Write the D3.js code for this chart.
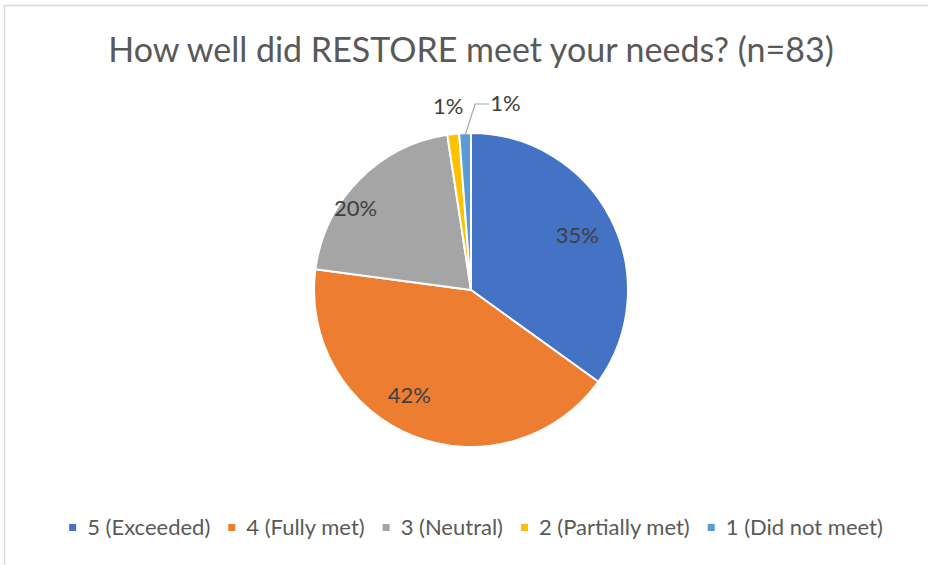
<!DOCTYPE html>
<html>
<head>
<meta charset="utf-8">
<script src="https://cdn.jsdelivr.net/npm/d3@7/dist/d3.min.js"></script>
<style>
  html, body { margin: 0; padding: 0; background: #fff; }
  svg { display: block; font-family: Lato, "Open Sans", sans-serif; }
</style>
</head>
<body>
<svg id="chart" width="928" height="565"></svg>
<script>
// Survey responses (n = 83)
const categories = ["5 (Exceeded)", "4 (Fully met)", "3 (Neutral)", "2 (Partially met)", "1 (Did not meet)"];
const counts = [29, 35, 17, 1, 1];
const percentLabels = ["35%", "42%", "20%", "1%", "1%"];
const colors = ["#4472C4", "#ED7D31", "#A5A5A5", "#FFC000", "#5B9BD5"];
const title = "How well did RESTORE meet your needs? (n=83)";

const W = 928, H = 565;
const cx = 471, cy = 290, R = 157;

const svg = d3.select("#chart");

// Chart frame
svg.append("rect")
  .attr("x", 4.5).attr("y", 5.5)
  .attr("width", W + 10).attr("height", H + 10)
  .attr("fill", "none").attr("stroke", "#d9d9d9").attr("stroke-width", 1.5);

// Title
svg.append("text")
  .attr("x", 471).attr("y", 62)
  .attr("text-anchor", "middle")
  .attr("font-size", 34)
  .attr("fill", "#595959")
  .text(title);

const data = categories.map((c, i) => ({ name: c, value: counts[i], label: percentLabels[i], color: colors[i] }));

const pie = d3.pie().value(d => d.value).sort(null);
const arcs = pie(data);
const arc = d3.arc().innerRadius(0).outerRadius(R);

const g = svg.append("g").attr("transform", `translate(${cx},${cy})`);

g.selectAll("path.slice")
  .data(arcs)
  .join("path")
  .attr("class", "slice")
  .attr("d", arc)
  .attr("fill", d => d.data.color)
  .attr("stroke", "#fff")
  .attr("stroke-width", 2)
  .attr("stroke-linejoin", "round");

// Label placement: radius factor and angular nudge (radians) per slice
const labelPlace = [
  { r: 0.76, da: 0 },
  { r: 0.78, da: 0.15 },
  { r: 0.90, da: -0.16 },
  { r: 1.18, da: -0.01 },
  { r: 1.22, da: 0.1 }
];
const labelSize = 22;

arcs.forEach((a, i) => {
  const mid = (a.startAngle + a.endAngle) / 2 + labelPlace[i].da;
  const rr = R * labelPlace[i].r;
  let x = Math.sin(mid) * rr;
  let y = -Math.cos(mid) * rr;
  if (i === 4) {
    // leader line from the slice edge to the outside label
    const m0 = (a.startAngle + a.endAngle) / 2;
    const ex = Math.sin(m0) * (R - 2), ey = -Math.cos(m0) * (R - 2);
    const kx = ex + 10, ky = -186;
    g.append("polyline")
      .attr("points", `${ex},${ey} ${kx},${ky} ${kx + 14},${ky}`)
      .attr("fill", "none").attr("stroke", "#a6a6a6").attr("stroke-width", 1.2);
    g.append("text")
      .attr("x", kx + 15).attr("y", ky - 1)
      .attr("dy", "0.35em")
      .attr("font-size", labelSize)
      .attr("fill", "#404040")
      .text(a.data.label);
    return;
  }
  g.append("text")
    .attr("x", x).attr("y", y)
    .attr("dy", "0.35em")
    .attr("text-anchor", "middle")
    .attr("font-size", labelSize)
    .attr("fill", "#404040")
    .text(a.data.label);
});

// Legend
const legend = svg.append("g");
const items = legend.selectAll("g").data(data).join("g");
items.append("rect")
  .attr("width", 7).attr("height", 7)
  .attr("y", -3.5)
  .attr("fill", d => d.color);
items.append("text")
  .attr("x", 18)
  .attr("dy", "0.35em")
  .attr("font-size", 22)
  .attr("fill", "#595959")
  .text(d => d.name);

let xpos = 0;
const widths = [];
items.each(function () {
  const w = d3.select(this).select("text").node().getComputedTextLength() + 18;
  widths.push(w);
});
const gap = 18;
items.attr("transform", (d, i) => {
  const t = `translate(${xpos},0)`;
  xpos += widths[i] + gap;
  return t;
});
const total = xpos - gap;
legend.attr("transform", `translate(${476 - total / 2},527.5)`);
</script>
</body>
</html>
